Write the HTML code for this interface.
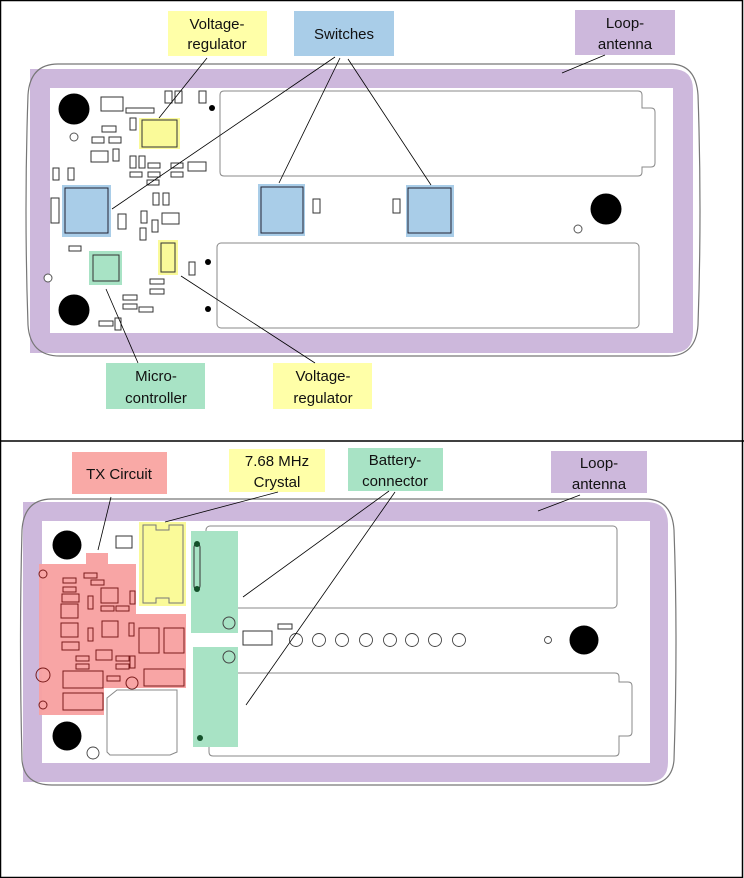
<!DOCTYPE html>
<html><head><meta charset="utf-8"><style>
html,body{margin:0;padding:0;background:#fff;}
svg{display:block;}
text{font-family:"Liberation Sans",sans-serif;}
.lbl{font-size:15px;fill:#111;text-anchor:middle;}
.c{fill:#fff;stroke:#333;stroke-width:1;}
.cr{fill:none;stroke:#7a1b1b;stroke-width:1;}
</style></head><body>
<svg width="744" height="878" viewBox="0 0 744 878" xmlns="http://www.w3.org/2000/svg">
<rect x="0.5" y="0.5" width="742" height="877" fill="#fff" stroke="#000" stroke-width="1.5"/>
<line x1="0" y1="441" x2="744" y2="441" stroke="#000" stroke-width="1.5"/>

<!-- ===== TOP PANEL ===== -->
<path d="M30,69 H672 Q693,69 693,90 V332 Q693,353 672,353 H30 Z" fill="#cdb8dc"/>
<rect x="50" y="88" width="623" height="245" fill="#fff"/>
<path d="M58,64 H670 Q696,64 698,95 Q702,210 698,325 Q696,356 668,356 H60 Q30,356 28,325 Q24,210 28,95 Q30,64 58,64 Z" fill="none" stroke="#777" stroke-width="1.2"/>
<path d="M224,91 H638 Q642,91 642,95 V108 H651 Q655,108 655,112 V163 Q655,167 651,167 H642 V172 Q642,176 638,176 H224 Q220,176 220,172 V95 Q220,91 224,91 Z" fill="#fff" stroke="#888" stroke-width="1"/>
<rect x="217" y="243" width="422" height="85" rx="4" fill="#fff" stroke="#888" stroke-width="1"/>
<circle cx="74" cy="109" r="15.5" fill="#000"/>
<circle cx="74" cy="310" r="15.5" fill="#000"/>
<circle cx="606" cy="209" r="15.5" fill="#000"/>
<circle cx="212" cy="108" r="3" fill="#000"/>
<circle cx="208" cy="262" r="3" fill="#000"/>
<circle cx="208" cy="309" r="3" fill="#000"/>
<circle cx="74" cy="137" r="4" fill="#fff" stroke="#555"/>
<circle cx="48" cy="278" r="4" fill="#fff" stroke="#555"/>
<circle cx="578" cy="229" r="4" fill="#fff" stroke="#555"/>
<rect x="139" y="118" width="41" height="31" fill="#fafa99"/>
<rect x="142" y="120" width="35" height="27" fill="none" stroke="#333"/>
<rect x="158" y="240" width="20" height="35" fill="#fafa99"/>
<rect x="161" y="243" width="14" height="29" fill="none" stroke="#333"/>
<rect x="62" y="185" width="49" height="52" fill="#a9cde8"/>
<rect x="65" y="188" width="43" height="45" fill="none" stroke="#223"/>
<rect x="258" y="184" width="47" height="52" fill="#a9cde8"/>
<rect x="261" y="187" width="42" height="46" fill="none" stroke="#223"/>
<rect x="406" y="185" width="48" height="52" fill="#a9cde8"/>
<rect x="408" y="188" width="43" height="45" fill="none" stroke="#223"/>
<rect x="89" y="251" width="33" height="34" fill="#a8e3c5"/>
<rect x="93" y="255" width="26" height="26" fill="none" stroke="#333"/>
<g class="c">
<rect x="101" y="97" width="22" height="14"/><rect x="126" y="108" width="28" height="5"/>
<rect x="165" y="91" width="7" height="12"/><rect x="175" y="91" width="7" height="12"/><rect x="199" y="91" width="7" height="12"/>
<rect x="130" y="118" width="6" height="12"/><rect x="102" y="126" width="14" height="6"/>
<rect x="92" y="137" width="12" height="6"/><rect x="109" y="137" width="12" height="6"/>
<rect x="91" y="151" width="17" height="11"/><rect x="113" y="149" width="6" height="12"/>
<rect x="53" y="168" width="6" height="12"/><rect x="68" y="168" width="6" height="12"/>
<rect x="130" y="156" width="6" height="12"/><rect x="139" y="156" width="6" height="12"/>
<rect x="148" y="163" width="12" height="5"/><rect x="171" y="163" width="12" height="5"/><rect x="188" y="162" width="18" height="9"/>
<rect x="130" y="172" width="12" height="5"/><rect x="148" y="172" width="12" height="5"/><rect x="171" y="172" width="12" height="5"/>
<rect x="147" y="180" width="12" height="5"/>
<rect x="153" y="193" width="6" height="12"/><rect x="163" y="193" width="6" height="12"/>
<rect x="162" y="213" width="17" height="11"/><rect x="118" y="214" width="8" height="15"/>
<rect x="141" y="211" width="6" height="12"/><rect x="140" y="228" width="6" height="12"/><rect x="152" y="220" width="6" height="12"/>
<rect x="51" y="198" width="8" height="25"/><rect x="69" y="246" width="12" height="5"/>
<rect x="189" y="262" width="6" height="13"/>
<rect x="150" y="279" width="14" height="5"/><rect x="150" y="289" width="14" height="5"/>
<rect x="123" y="295" width="14" height="5"/><rect x="123" y="304" width="14" height="5"/><rect x="139" y="307" width="14" height="5"/>
<rect x="99" y="321" width="14" height="5"/><rect x="115" y="318" width="6" height="12"/>
<rect x="313" y="199" width="7" height="14"/><rect x="393" y="199" width="7" height="14"/>
</g>
<rect x="168" y="11" width="99" height="45" fill="#ffffa8"/>
<text class="lbl" x="217" y="29">Voltage-</text><text class="lbl" x="217" y="49">regulator</text>
<rect x="294" y="11" width="100" height="45" fill="#a9cde8"/>
<text class="lbl" x="344" y="39">Switches</text>
<rect x="575" y="10" width="100" height="45" fill="#cdb8dc"/>
<text class="lbl" x="625" y="28">Loop-</text><text class="lbl" x="625" y="49">antenna</text>
<rect x="106" y="363" width="99" height="46" fill="#a8e3c5"/>
<text class="lbl" x="156" y="381">Micro-</text><text class="lbl" x="156" y="403">controller</text>
<rect x="273" y="363" width="99" height="46" fill="#ffffa8"/>
<text class="lbl" x="323" y="381">Voltage-</text><text class="lbl" x="323" y="403">regulator</text>
<g stroke="#000" stroke-width="0.8">
<line x1="207" y1="58" x2="159" y2="118"/>
<line x1="335" y1="57" x2="112" y2="209"/>
<line x1="340" y1="58" x2="279" y2="183"/>
<line x1="348" y1="59" x2="431" y2="185"/>
<line x1="605" y1="55" x2="562" y2="73"/>
<line x1="106" y1="289" x2="138" y2="363"/>
<line x1="181" y1="276" x2="315" y2="363"/>
</g>

<!-- ===== BOTTOM PANEL ===== -->
<path d="M23,502 H646 Q668,502 668,524 V762 Q668,782 648,782 H23 Z" fill="#cdb8dc"/>
<rect x="42" y="521" width="608" height="242" fill="#fff"/>
<path d="M52,499 H645 Q672,499 674,530 Q678,640 674,760 Q672,785 645,785 H52 Q24,785 22,760 Q19,640 22,530 Q24,499 52,499 Z" fill="none" stroke="#777" stroke-width="1.2"/>
<rect x="206" y="526" width="411" height="82" rx="4" fill="#fff" stroke="#888"/>
<path d="M213,673 H615 Q619,673 619,677 V682 H628 Q632,682 632,686 V732 Q632,736 628,736 H619 V752 Q619,756 615,756 H213 Q209,756 209,752 V677 Q209,673 213,673 Z" fill="#fff" stroke="#888"/>
<circle cx="67" cy="545" r="14.5" fill="#000"/>
<circle cx="67" cy="736" r="14.5" fill="#000"/>
<circle cx="584" cy="640" r="14.5" fill="#000"/>
<g fill="#fff" stroke="#444" stroke-width="0.9">
<circle cx="296" cy="640" r="6.5"/><circle cx="319" cy="640" r="6.5"/><circle cx="342" cy="640" r="6.5"/><circle cx="366" cy="640" r="6.5"/><circle cx="390" cy="640" r="6.5"/><circle cx="412" cy="640" r="6.5"/><circle cx="435" cy="640" r="6.5"/><circle cx="459" cy="640" r="6.5"/>
<circle cx="548" cy="640" r="3.5"/>
<circle cx="93" cy="753" r="6"/>
</g>
<rect x="243" y="631" width="29" height="14" fill="#fff" stroke="#333"/>
<rect x="278" y="624" width="14" height="5" fill="#fff" stroke="#333"/>
<rect x="116" y="536" width="16" height="12" fill="#fff" stroke="#333"/>
<path d="M117,690 H177 V752 L170,755 H110 L107,752 V698 Z" fill="#fff" stroke="#888"/>
<path d="M39,564 H86 V553 H108 V564 H136 V614 H186 V688 H104 V715 H39 Z" fill="#f8a0a0" opacity="0.95"/>
<g class="cr">
<rect x="63" y="578" width="13" height="5"/><rect x="63" y="587" width="13" height="5"/><rect x="84" y="573" width="13" height="5"/><rect x="91" y="580" width="13" height="5"/>
<rect x="62" y="594" width="17" height="8"/><rect x="61" y="604" width="17" height="14"/><rect x="61" y="623" width="17" height="14"/><rect x="62" y="642" width="17" height="8"/>
<rect x="88" y="596" width="5" height="13"/><rect x="101" y="588" width="17" height="15"/><rect x="130" y="591" width="5" height="13"/>
<rect x="101" y="606" width="13" height="5"/><rect x="116" y="606" width="13" height="5"/>
<rect x="102" y="621" width="16" height="16"/><rect x="88" y="628" width="5" height="13"/><rect x="129" y="623" width="5" height="13"/>
<rect x="139" y="628" width="20" height="25"/><rect x="164" y="628" width="20" height="25"/>
<rect x="96" y="650" width="16" height="10"/><rect x="76" y="656" width="13" height="5"/><rect x="76" y="664" width="13" height="5"/>
<rect x="116" y="656" width="13" height="5"/><rect x="116" y="664" width="13" height="5"/><rect x="130" y="656" width="5" height="12"/>
<rect x="63" y="671" width="40" height="17"/><rect x="63" y="693" width="40" height="17"/><rect x="144" y="669" width="40" height="17"/>
<rect x="107" y="676" width="13" height="5"/><circle cx="132" cy="683" r="6"/><circle cx="43" cy="675" r="7"/>
<circle cx="43" cy="574" r="4"/><circle cx="43" cy="705" r="4"/>
</g>
<rect x="139" y="522" width="47" height="84" fill="#fafa99"/>
<path d="M143,525 H156 V530 H169 V525 H183 V603 H169 V598 H156 V603 H143 Z" fill="none" stroke="#777"/>
<rect x="191" y="531" width="47" height="102" fill="#a8e3c5"/>
<rect x="193" y="647" width="45" height="100" fill="#a8e3c5"/>
<rect x="194" y="544" width="6" height="45" rx="3" fill="none" stroke="#333"/>
<circle cx="197" cy="544" r="3" fill="#14502a"/><circle cx="197" cy="589" r="3" fill="#14502a"/><circle cx="200" cy="738" r="3" fill="#14502a"/>
<circle cx="229" cy="623" r="6" fill="none" stroke="#444"/><circle cx="229" cy="657" r="6" fill="none" stroke="#444"/>
<rect x="72" y="452" width="95" height="42" fill="#f9a9a6"/>
<text class="lbl" x="119" y="479">TX Circuit</text>
<rect x="229" y="449" width="96" height="43" fill="#ffffa8"/>
<text class="lbl" x="277" y="466">7.68 MHz</text><text class="lbl" x="277" y="487">Crystal</text>
<rect x="348" y="448" width="95" height="43" fill="#a8e3c5"/>
<text class="lbl" x="395" y="465">Battery-</text><text class="lbl" x="395" y="486">connector</text>
<rect x="551" y="451" width="96" height="42" fill="#cdb8dc"/>
<text class="lbl" x="599" y="468">Loop-</text><text class="lbl" x="599" y="489">antenna</text>
<g stroke="#000" stroke-width="0.8">
<line x1="111" y1="497" x2="98" y2="550"/>
<line x1="278" y1="492" x2="165" y2="522"/>
<line x1="389" y1="491" x2="243" y2="597"/>
<line x1="395" y1="492" x2="246" y2="705"/>
<line x1="580" y1="495" x2="538" y2="511"/>
</g>
</svg>
</body></html>
